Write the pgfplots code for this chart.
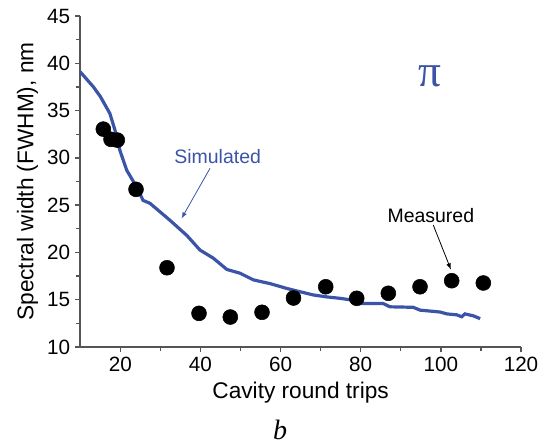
\documentclass[border=0pt]{standalone}
\usepackage{pgfplots}
\pgfplotsset{compat=1.18}
\usepackage{fontspec}
\setmainfont{Liberation Sans}
\newfontfamily\seriffont{Liberation Serif}
\definecolor{simblue}{RGB}{59,84,168}
\definecolor{axgray}{RGB}{85,85,85}
\begin{document}
\begin{tikzpicture}
\begin{axis}[
  scale only axis,
  width=330.6pt, height=248.25pt,
  xmin=10, xmax=120, ymin=10, ymax=45,
  axis x line*=bottom, axis y line*=left,
  axis line style={axgray, line width=1.1pt},
  xtick={20,40,60,80,100,120}, minor xtick={30,50,70,90,110},
  ytick={10,15,20,25,30,35,40,45}, minor ytick={12.5,17.5,22.5,27.5,32.5,37.5,42.5},
  tick align=outside,
  major tick length=4pt, minor tick length=3pt,
  tick style={axgray, line width=1pt},
  tick label style={font=\fontsize{15.5}{17}\selectfont},
  /pgf/number format/assume math mode=true,
  xlabel={Cavity round trips}, ylabel={Spectral width (FWHM), nm},
  label style={font=\fontsize{17}{19}\selectfont},
  xlabel style={yshift=-1pt},
  ylabel style={yshift=0pt},
  clip=false,
]
\addplot[simblue, line width=2.4pt] coordinates {
(10,39.1) (13.3,37.5) (15,36.5) (17.4,34.7) (18.7,32.9) (19.9,30.8) (21.6,28.7) (24.1,26.9) (25.7,25.5) (27.4,25.2) (32.4,23.4) (36.6,21.8) (39.9,20.25) (43.2,19.4) (46.6,18.2) (49.9,17.8) (53.2,17.1) (57.4,16.7) (61.5,16.2) (64.8,15.85) (68.2,15.5) (71.5,15.3) (74.8,15.15) (77.7,14.97) (79.8,14.6) (85.6,14.6) (87.3,14.25) (93.1,14.2) (94.8,13.9) (99.8,13.7) (101.5,13.5) (104,13.4) (105.2,13.2) (106,13.5) (108.1,13.3) (109.8,13.0)
};
\addplot[only marks, mark=*, mark size=5.6pt, black] coordinates {
(15.77,33.04) (17.69,31.96) (19.26,31.88) (23.93,26.67) (31.66,18.38) (39.65,13.56) (47.46,13.17) (55.37,13.67) (63.23,15.18) (71.27,16.37) (79.0,15.15) (86.89,15.68) (94.8,16.37) (102.7,17.01) (110.6,16.77)
};
\node[simblue, font=\fontsize{14.6}{16}\selectfont] at (axis cs:44.3,30.15) {Simulated};
\draw[simblue, line width=0.6pt, -latex] (axis cs:42.4,28.9) -- (axis cs:35.3,23.6);
\node[black, font=\fontsize{14.6}{16}\selectfont] at (axis cs:97.5,23.9) {Measured};
\draw[black, line width=0.6pt, -latex] (axis cs:98.1,22.9) -- (axis cs:102.5,18.2);
\node[simblue, font=\seriffont\fontsize{34}{36}\selectfont] at (axis cs:97.2,38.65) {π};
\end{axis}
\node[font=\seriffont\itshape\fontsize{21}{24}\selectfont] at (149.85pt,-62.25pt) {b};
\useasboundingbox (-60.15pt,-72pt) rectangle (348.6pt,260.25pt);
\end{tikzpicture}
\end{document}
